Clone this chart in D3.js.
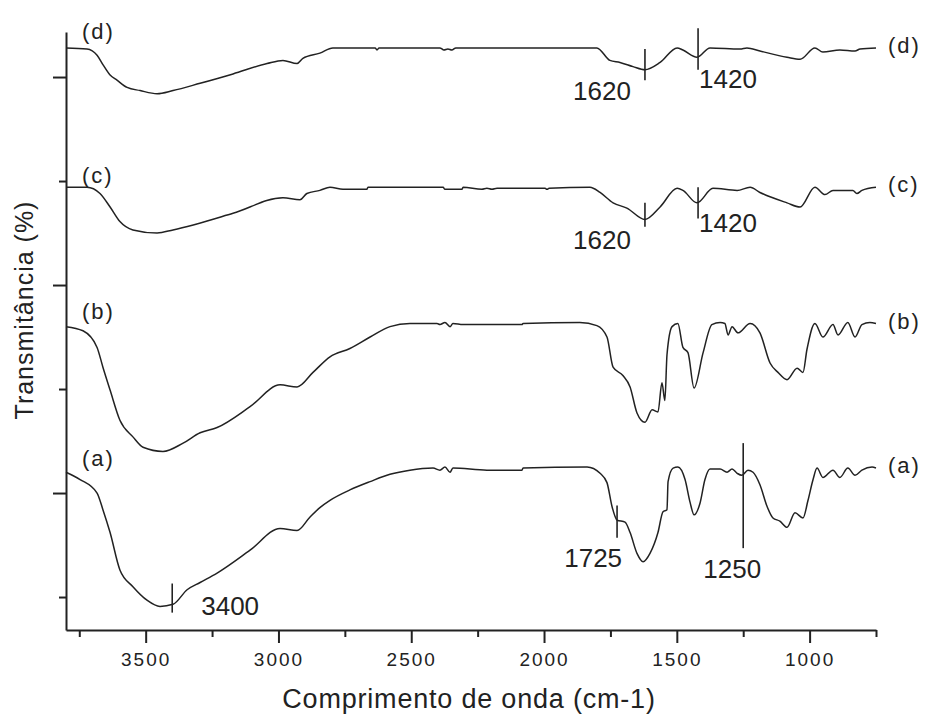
<!DOCTYPE html>
<html>
<head>
<meta charset="utf-8">
<script src="https://cdn.jsdelivr.net/npm/d3@7"></script>
<style>
  body { margin: 0; background: #fff; }
  svg { display: block; font-family: "Liberation Sans", Arial, sans-serif; }
</style>
</head>
<body>
<script>
// FTIR spectra, [wavenumber cm-1, transmittance (offset, arbitrary %)]
const spectrumA = [
  [3800,22.0],[3747,21.3],[3683,20.0],[3661,18.4],[3634,16.2],[3597,12.6],[3548,11.0],[3495,9.7],
  [3446,9.1],[3397,9.3],[3344,10.7],[3295,11.4],[3231,12.3],[3107,14.5],[2994,16.6],[2930,16.4],
  [2881,17.7],[2844,18.6],[2806,19.3],[2731,20.3],[2655,21.1],[2580,21.8],[2505,22.2],[2418,22.4],
  [2392,22.2],[2373,22.5],[2354,22.0],[2343,22.4],[2215,22.2],[2083,22.2],[2079,22.4],[1838,22.5],
  [1789,21.9],[1763,21.0],[1744,18.7],[1725,17.4],[1695,17.2],[1676,16.2],[1650,14.2],[1627,13.4],
  [1601,14.2],[1571,16.2],[1552,18.2],[1537,18.4],[1533,21.1],[1514,22.4],[1496,22.5],[1469,21.3],
  [1450,19.1],[1435,17.9],[1413,19.0],[1394,21.3],[1375,22.3],[1337,22.3],[1311,22.0],[1292,22.3],
  [1273,21.9],[1255,21.7],[1232,22.2],[1213,22.0],[1187,20.8],[1160,18.7],[1138,17.6],[1112,17.3],
  [1085,16.7],[1055,18.1],[1025,17.6],[1006,19.3],[987,21.3],[972,22.4],[950,21.5],[912,22.2],
  [886,21.5],[856,22.4],[829,21.7],[803,22.2],[765,22.5],[750,22.4]
];
const spectrumB = [
  [3800,36.0],[3736,35.6],[3683,34.0],[3661,32.1],[3634,29.9],[3597,27.0],[3548,25.4],[3510,24.4],
  [3435,24.0],[3359,24.8],[3295,25.8],[3231,26.3],[3107,28.3],[2994,30.4],[2930,30.2],[2870,31.6],
  [2806,33.1],[2731,33.9],[2655,35.0],[2580,36.0],[2505,36.3],[2403,36.3],[2392,36.2],[2373,36.4],
  [2354,36.0],[2343,36.3],[2305,36.2],[2083,36.2],[2079,36.3],[1865,36.4],[1801,36.1],[1763,35.0],
  [1740,32.1],[1703,31.3],[1676,30.2],[1650,27.7],[1620,26.8],[1593,28.0],[1571,27.8],[1556,30.6],
  [1545,28.9],[1537,33.3],[1518,36.0],[1496,36.3],[1477,34.0],[1458,33.5],[1435,30.1],[1401,33.5],
  [1368,36.2],[1337,36.4],[1319,36.3],[1307,35.2],[1292,36.0],[1270,35.4],[1224,36.3],[1187,35.4],
  [1149,32.5],[1119,31.6],[1085,30.9],[1047,32.0],[1025,31.6],[1010,33.8],[980,36.3],[950,35.0],
  [912,36.2],[893,35.2],[856,36.4],[829,35.0],[803,36.2],[773,36.4],[750,36.3]
];
const spectrumC = [
  [3800,49.4],[3721,49.4],[3672,48.8],[3634,47.5],[3597,46.1],[3548,45.3],[3457,45.0],[3397,45.3],
  [3171,46.9],[2983,48.4],[2919,48.2],[2893,48.8],[2844,49.1],[2806,49.4],[2757,49.2],[2667,49.2],
  [2663,49.4],[2380,49.4],[2373,49.2],[2309,49.2],[2305,49.4],[2234,49.2],[2215,49.3],[2196,49.2],
  [2177,49.3],[1996,49.3],[1989,49.2],[1981,49.3],[1827,49.4],[1789,48.9],[1740,47.9],[1688,47.4],
  [1620,46.3],[1563,47.5],[1499,49.3],[1477,49.1],[1424,47.9],[1364,49.3],[1273,49.1],[1224,49.4],
  [1187,48.9],[1085,47.9],[1036,47.5],[980,49.4],[942,48.7],[912,49.1],[837,49.1],[822,48.8],
  [803,49.1],[750,49.4]
];
const spectrumD = [
  [3800,62.8],[3721,62.7],[3683,62.1],[3661,61.2],[3634,60.2],[3608,59.7],[3570,59.0],[3521,58.7],
  [3457,58.4],[3397,58.7],[3295,59.4],[3171,60.3],[3043,61.3],[2983,61.6],[2930,61.3],[2908,61.8],
  [2844,62.3],[2795,62.8],[2636,62.8],[2629,62.6],[2621,62.8],[2392,62.8],[2377,62.6],[2362,62.7],
  [2347,62.6],[2332,62.8],[1801,62.8],[1752,61.6],[1714,61.4],[1665,61.0],[1620,60.7],[1563,61.4],
  [1499,62.8],[1477,62.6],[1424,61.9],[1375,62.8],[1262,62.7],[1236,62.8],[1187,62.5],[1085,61.9],
  [1036,61.7],[980,62.8],[950,62.4],[886,62.6],[829,62.5],[810,62.7],[750,62.8]
];

const seriesNames = ["(a)", "(b)", "(c)", "(d)"];
const seriesData = [spectrumA, spectrumB, spectrumC, spectrumD];
const seriesStartT = [22.0, 36.0, 49.4, 62.8];   // value at left end
const seriesEndT = [22.4, 36.3, 49.4, 62.8];     // value at right end

// band markers: label, wavenumber, top and bottom transmittance of the tick
const bandLabels = ["3400", "1725", "1250", "1620", "1420", "1620", "1420"];
const bandWn =     [3400, 1725, 1250, 1620, 1420, 1620, 1420];
const bandTop =    [11.3, 18.8, 24.8, 47.9, 49.4, 62.7, 64.7];
const bandBottom = [8.5, 15.7, 14.7, 45.6, 46.4, 59.7, 60.7];

const xMajorTicks = [3500, 3000, 2500, 2000, 1500, 1000];
const xMinorTicks = [3750, 3250, 2750, 2250, 1750, 1250, 750];
const yMajorTicks = [20, 40, 60];
const yMinorTicks = [10, 30, 50];

const W = 925, H = 720;
const ink = "#222";

const svg = d3.select("body").append("svg")
    .attr("width", W)
    .attr("height", H);

svg.append("rect").attr("width", W).attr("height", H).attr("fill", "#fff");

const x = d3.scaleLinear().domain([3800, 750]).range([66, 876]);
const y = d3.scaleLinear().domain([6.83, 64.33]).range([630, 32]);

// axes
function styleAxis(g) {
    g.select(".domain").attr("stroke", ink).attr("stroke-width", 2);
    g.selectAll(".tick line").attr("stroke", ink).attr("stroke-width", 2);
    g.selectAll("text").attr("fill", ink)
        .style("font-size", "19px").style("letter-spacing", "2px");
}

svg.append("g")
    .attr("transform", "translate(0,630)")
    .call(d3.axisBottom(x).tickValues(xMinorTicks).tickSize(7).tickSizeOuter(0).tickFormat(""))
    .call(styleAxis);
svg.append("g")
    .attr("transform", "translate(0,630)")
    .call(d3.axisBottom(x).tickValues(xMajorTicks).tickSize(13).tickSizeOuter(0).tickPadding(10).tickFormat(d3.format("d")))
    .call(styleAxis)
    .call(g => g.select(".domain").remove());

svg.append("g")
    .attr("transform", "translate(66,0)")
    .call(d3.axisLeft(y).tickValues(yMinorTicks).tickSize(7).tickSizeOuter(0).tickFormat(""))
    .call(styleAxis);
svg.append("g")
    .attr("transform", "translate(66,0)")
    .call(d3.axisLeft(y).tickValues(yMajorTicks).tickSize(13).tickSizeOuter(0).tickFormat(""))
    .call(styleAxis)
    .call(g => g.select(".domain").remove());

// spectra
const line = d3.line()
    .x(d => x(d[0]))
    .y(d => y(d[1]))
    .curve(d3.curveMonotoneX);

svg.append("g").selectAll("path")
    .data(seriesData)
    .join("path")
    .attr("d", line)
    .attr("fill", "none")
    .attr("stroke", ink)
    .attr("stroke-width", 1.5)
    .attr("stroke-linejoin", "round");

// series labels, left and right
const labelFont = { size: "22px", spacing: "2px" };
svg.append("g").selectAll("text")
    .data(seriesNames)
    .join("text")
    .attr("x", 82)
    .attr("y", (d, i) => y(seriesStartT[i]) - [6, 8, 4, 9][i])
    .text(d => d)
    .attr("fill", ink)
    .style("font-size", labelFont.size)
    .style("letter-spacing", labelFont.spacing);

svg.append("g").selectAll("text")
    .data(seriesNames)
    .join("text")
    .attr("x", 888)
    .attr("y", (d, i) => y(seriesEndT[i]) + 5)
    .text(d => d)
    .attr("fill", ink)
    .style("font-size", labelFont.size)
    .style("letter-spacing", labelFont.spacing);

// band markers
const bandPlace = [ // label offset from the tick's lower end, text anchor
    { dx: 29, dy: 2, anchor: "start" },
    { dx: 5, dy: 29, anchor: "end" },
    { dx: -11, dy: 30, anchor: "middle" },
    { dx: -43, dy: 22, anchor: "middle" },
    { dx: 1, dy: 14, anchor: "start" },
    { dx: -43, dy: 20, anchor: "middle" },
    { dx: 1, dy: 18, anchor: "start" }
];

const bands = svg.append("g");
bandLabels.forEach((lab, i) => {
    const bx = x(bandWn[i]);
    bands.append("line")
        .attr("x1", bx).attr("x2", bx)
        .attr("y1", y(bandTop[i])).attr("y2", y(bandBottom[i]))
        .attr("stroke", ink)
        .attr("stroke-width", 1.6);
    bands.append("text")
        .attr("x", bx + bandPlace[i].dx)
        .attr("y", y(bandBottom[i]) + bandPlace[i].dy)
        .attr("text-anchor", bandPlace[i].anchor)
        .attr("fill", ink)
        .style("font-size", "26px")
        .text(lab);
});

// axis titles
svg.append("text")
    .attr("x", 469)
    .attr("y", 708)
    .attr("text-anchor", "middle")
    .attr("fill", ink)
    .style("font-size", "27px")
    .style("letter-spacing", "0.8px")
    .text("Comprimento de onda (cm-1)");

svg.append("text")
    .attr("transform", "translate(33,310) rotate(-90)")
    .attr("text-anchor", "middle")
    .attr("fill", ink)
    .style("font-size", "25px")
    .style("letter-spacing", "1px")
    .text("Transmitância (%)");
</script>
</body>
</html>
